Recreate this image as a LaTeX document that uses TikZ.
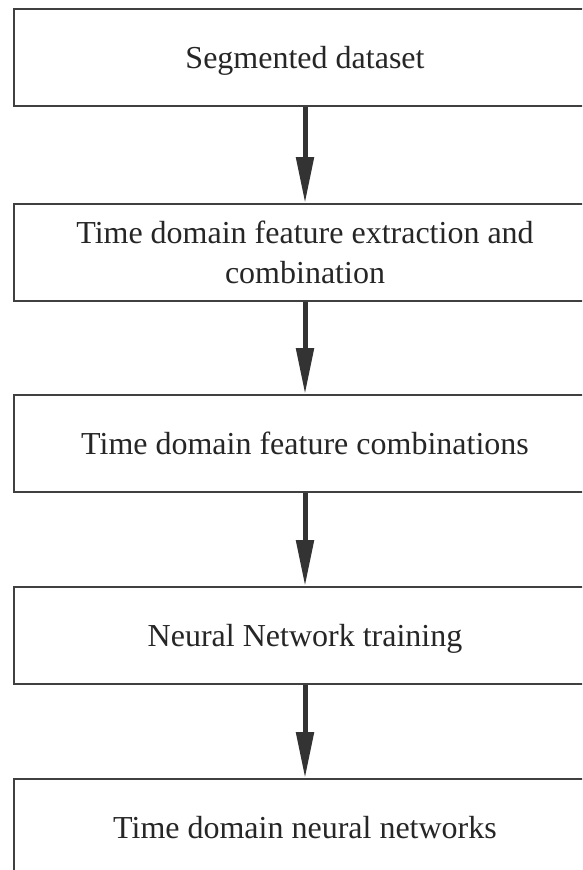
\documentclass[tikz,border=0pt]{standalone}
\usepackage{fontspec}
\setmainfont{Liberation Serif}
\usetikzlibrary{arrows.meta}

\begin{document}
\begin{tikzpicture}[x=1pt,y=-1pt]
					\tikzstyle{stage} = [rectangle,draw=black!75,line width=1.6pt,fill=white,minimum width=582pt,minimum height=97pt,inner sep=0pt,align=center,text depth=0pt,font=\fontsize{32}{40}\selectfont,text=black!85]
					\tikzstyle{flow} = [draw=black!80,line width=5pt,-{Triangle[length=46pt,width=17pt]}]
					\useasboundingbox (0,0) rectangle (582,870);
					\clip (0,0) rectangle (582,870);
					\node[stage] (n1) at (305,57.5) {Segmented dataset};
					\node[stage,text depth=] (n2) at (305,252.5) {Time domain feature extraction and\\combination};
					\node[stage] (n3) at (305,443.5) {Time domain feature combinations};
					\node[stage] (n4) at (305,635.5) {Neural Network training};
					\node[stage] (n5) at (305,827.5) {Time domain neural networks};
					\draw[flow] (n1.south)--(n2.north);
					\draw[flow] (n2.south)--(n3.north);
					\draw[flow] (n3.south)--(n4.north);
					\draw[flow] (n4.south)--(n5.north);
					\end{tikzpicture}
\end{document}
